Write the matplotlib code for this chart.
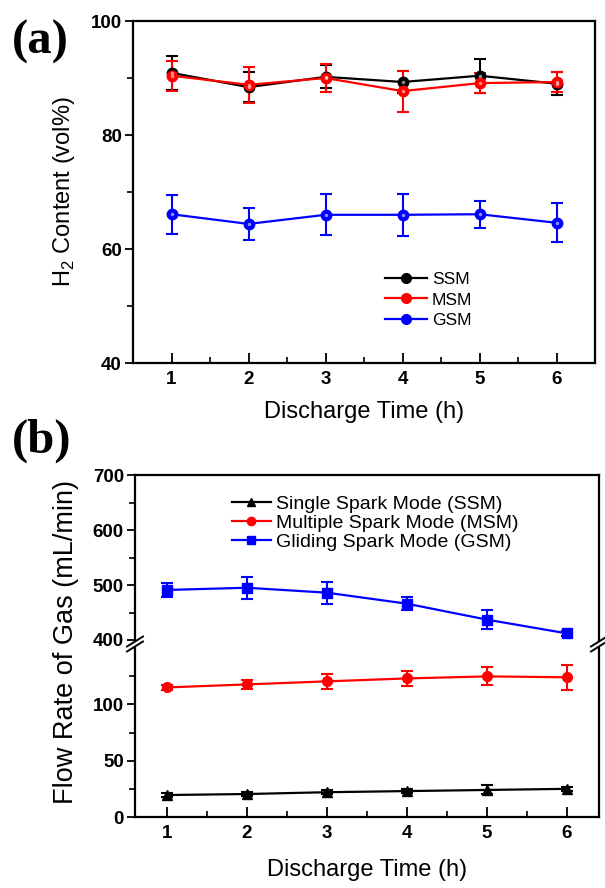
import matplotlib
matplotlib.use("Agg")
import matplotlib.pyplot as plt
from matplotlib.lines import Line2D
from matplotlib.patches import Polygon
from matplotlib.ticker import MultipleLocator

plt.rcParams['font.family'] = ['Liberation Sans', 'DejaVu Sans']
plt.rcParams['mathtext.fontset'] = 'custom'
plt.rcParams['mathtext.rm'] = 'Liberation Sans'

# ---- data ----
time_h = [1, 2, 3, 4, 5, 6]

# (a) hydrogen content, vol%
h2_ssm = [90.9, 88.4, 90.2, 89.3, 90.4, 89.0]
h2_ssm_err = [3.0, 2.6, 2.0, 2.0, 3.0, 2.0]
h2_msm = [90.4, 88.8, 90.0, 87.7, 89.1, 89.3]
h2_msm_err = [2.6, 3.2, 2.5, 3.6, 1.8, 1.8]
h2_gsm = [66.1, 64.4, 66.0, 66.0, 66.1, 64.6]
h2_gsm_err = [3.4, 2.8, 3.6, 3.7, 2.4, 3.4]

# (b) gas flow rate, mL/min
flow_ssm = [19.5, 20.4, 22.0, 23.0, 24.0, 25.0]
flow_ssm_err = [1.5, 1.5, 2.0, 2.0, 4.0, 2.0]
flow_msm = [115.0, 117.7, 120.4, 123.0, 124.8, 124.0]
flow_msm_err = [2.0, 4.0, 6.5, 6.5, 8.0, 11.0]
flow_gsm = [491, 495, 486, 466, 437, 412]
flow_gsm_err = [13, 20, 20, 12, 17, 5]

labels_a = ['SSM', 'MSM', 'GSM']
labels_b = ['Single Spark Mode (SSM)', 'Multiple Spark Mode (MSM)',
            'Gliding Spark Mode (GSM)']

BLACK, RED, BLUE = '#000000', '#ff0000', '#0000ff'

W, H = 605, 888
fig = plt.figure(figsize=(W / 100, H / 100), dpi=100)


def fx(px):
    return px / W


def fy(py):
    return 1 - py / H


def style_axes(ax, bottom=True, top=True):
    for s in ax.spines.values():
        s.set_linewidth(1.6)
    ax.spines['bottom'].set_visible(bottom)
    ax.spines['top'].set_visible(top)
    ax.tick_params(axis='y', which='major', direction='out', length=6,
                   width=1.3, labelsize=13.5, right=False, pad=2)
    ax.tick_params(axis='y', which='minor', direction='out', length=4,
                   width=1.2, right=False)
    ax.tick_params(axis='x', which='major', direction='in', length=7,
                   width=1.3, labelsize=13.5, top=False, bottom=bottom,
                   labelbottom=bottom, pad=6)
    ax.tick_params(axis='x', which='minor', direction='in', length=4,
                   width=1.2, top=False, bottom=bottom)
    for lab in ax.get_xticklabels() + ax.get_yticklabels():
        lab.set_fontweight('bold')


def ball_series(ax, x, y, err, color, label=None):
    ax.errorbar(x, y, yerr=err, color=color, lw=1.6, elinewidth=1.5,
                capsize=4, capthick=1.5, marker='o', ms=7.5,
                mfc=color, mec=color, label=label, zorder=3)
    # small highlight on each ball marker
    ax.plot(x, y, ls='none', marker='o', ms=2.5, mfc='white', mec='none',
            alpha=0.55, zorder=4)


# ---------------- panel (a) ----------------
axa = fig.add_axes([fx(133), fy(363), fx(595 - 133), fy(21) - fy(363)])
ball_series(axa, time_h, h2_ssm, h2_ssm_err, BLACK, labels_a[0])
ball_series(axa, time_h, h2_msm, h2_msm_err, RED, labels_a[1])
ball_series(axa, time_h, h2_gsm, h2_gsm_err, BLUE, labels_a[2])
axa.set_xlim(0.5, 6.5)
axa.set_ylim(40, 100)
axa.xaxis.set_major_locator(MultipleLocator(1))
axa.xaxis.set_minor_locator(MultipleLocator(0.5))
axa.yaxis.set_major_locator(MultipleLocator(20))
axa.yaxis.set_minor_locator(MultipleLocator(10))
style_axes(axa)
axa.set_xlabel('Discharge Time (h)', fontsize=17, labelpad=9)
axa.set_ylabel(r'H$_2$ Content (vol%)', fontsize=17, labelpad=10)

leg_handles_a = [Line2D([], [], color=c, lw=1.6, marker='o', ms=7, mfc=c, mec=c)
                 for c in (BLACK, RED, BLUE)]
axa.legend(leg_handles_a, labels_a, loc='upper left',
           bbox_to_anchor=((385 - 133) / 462, (363 - 272) / 342),
           frameon=False, fontsize=12.5, handlelength=2.4, handletextpad=0.3,
           labelspacing=0.3, borderpad=0, borderaxespad=0)

fig.text(fx(12), fy(42), '(a)', fontsize=35, fontweight='bold',
         family=['Liberation Serif', 'DejaVu Serif'], va='center', ha='left')

# ---------------- panel (b): broken y axis ----------------
b_left, b_right = 135, 599
axu = fig.add_axes([fx(b_left), fy(640), fx(b_right - b_left), fy(475) - fy(640)])
axl = fig.add_axes([fx(b_left), fy(817), fx(b_right - b_left), fy(648) - fy(817)],
                   sharex=axu)

series_b = [
    (flow_ssm, flow_ssm_err, BLACK, '^'),
    (flow_msm, flow_msm_err, RED, 'o'),
    (flow_gsm, flow_gsm_err, BLUE, 's'),
]
for ax in (axu, axl):
    for vals, errs, c, m in series_b:
        ax.errorbar(time_h, vals, yerr=errs, color=c, lw=1.6, elinewidth=1.5,
                    capsize=4, capthick=1.5, marker=m, ms=7, mfc=c, mec=c,
                    zorder=3, clip_on=True)

axu.set_ylim(400, 700)
axl.set_ylim(0, 150)
axl.set_xlim(0.6, 6.4)
axl.xaxis.set_major_locator(MultipleLocator(1))
axl.xaxis.set_minor_locator(MultipleLocator(0.5))
axu.yaxis.set_major_locator(MultipleLocator(100))
axu.yaxis.set_minor_locator(MultipleLocator(50))
axl.yaxis.set_major_locator(MultipleLocator(50))
axl.yaxis.set_minor_locator(MultipleLocator(25))
axl.set_yticks([0, 50, 100])
style_axes(axu, bottom=False, top=True)
style_axes(axl, bottom=True, top=False)
axl.set_xlabel('Discharge Time (h)', fontsize=17, labelpad=12)

fig.text(fx(66), fy(642), 'Flow Rate of Gas (mL/min)', fontsize=19.5,
         rotation=90, ha='center', va='center')

leg_handles_b = [Line2D([], [], color=c, lw=1.6, marker=m, ms=6, mfc=c, mec=c)
                 for _, _, c, m in series_b]
axu.legend(leg_handles_b, labels_b, loc='upper left',
           bbox_to_anchor=((232 - b_left) / (b_right - b_left), (640 - 495) / 165),
           frameon=False, fontsize=14, handlelength=2.0, handletextpad=0.25,
           labelspacing=0.07, borderpad=0, borderaxespad=0)

# break marks on both vertical spines
for xs in (b_left, b_right):
    x0, y0 = xs, 644
    dx, dy = 8, 5
    gap = 5
    poly = Polygon([(fx(x0 - dx), fy(y0 + dy + gap / 2)),
                    (fx(x0 + dx), fy(y0 - dy + gap / 2)),
                    (fx(x0 + dx), fy(y0 - dy - gap / 2)),
                    (fx(x0 - dx), fy(y0 + dy - gap / 2))],
                   closed=True, transform=fig.transFigure, fc='white', ec='none',
                   zorder=10)
    fig.add_artist(poly)
    for off in (-gap / 2, gap / 2):
        fig.add_artist(Line2D([fx(x0 - dx), fx(x0 + dx)],
                              [fy(y0 + dy + off), fy(y0 - dy + off)],
                              transform=fig.transFigure, color='black', lw=1.4,
                              zorder=11))

fig.text(fx(12), fy(441), '(b)', fontsize=35, fontweight='bold',
         family=['Liberation Serif', 'DejaVu Serif'], va='center', ha='left')

fig.savefig('out.png', dpi=100)
